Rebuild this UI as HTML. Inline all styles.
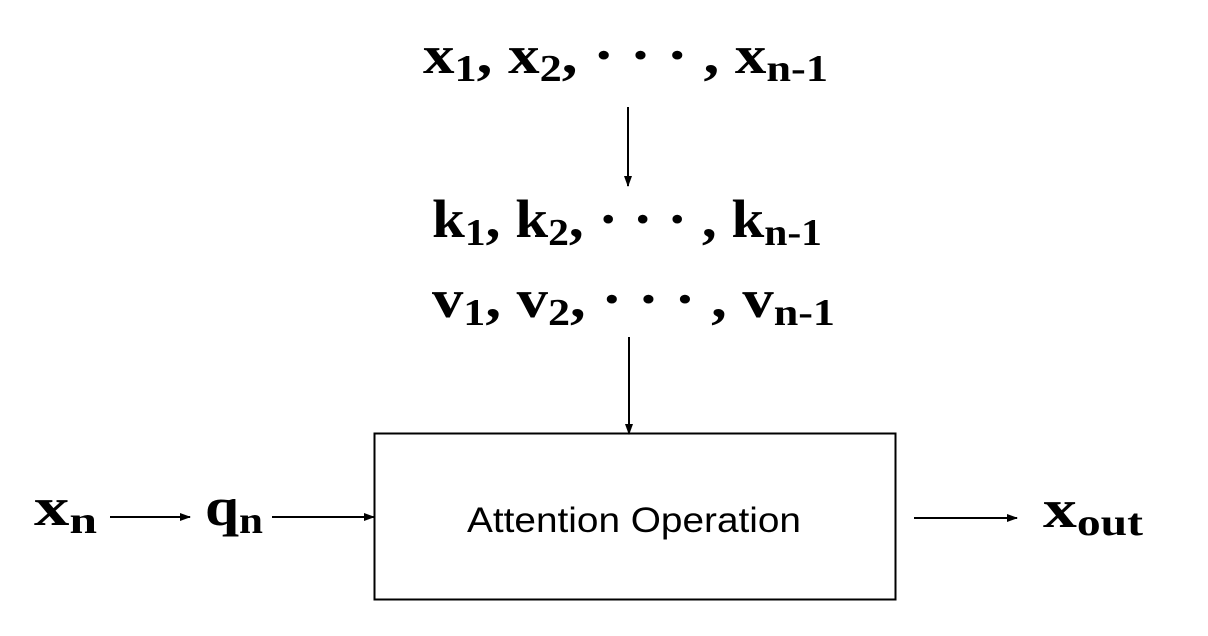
<!DOCTYPE html>
<html><head><meta charset="utf-8"><style>
html,body{margin:0;padding:0;background:#fff;width:1208px;height:636px;overflow:hidden}
svg{display:block}
text.m{font-family:"Liberation Serif",serif;font-weight:bold;font-size:54px;fill:#000}
tspan.s{font-family:"Liberation Serif",serif;font-weight:bold;font-size:38px}
</style></head><body>
<svg width="1208" height="636" viewBox="0 0 1208 636" xmlns="http://www.w3.org/2000/svg">
<defs><marker id="a" markerWidth="11" markerHeight="8" refX="10" refY="4" orient="auto" markerUnits="userSpaceOnUse"><path d="M0,0 L11,4 L0,8 z" fill="#000"/></marker></defs>
<text class="m" x="423" y="73" textLength="405" lengthAdjust="spacingAndGlyphs">x<tspan class="s" dy="8">1</tspan><tspan dy="-8">, x</tspan><tspan class="s" dy="8">2</tspan><tspan dy="-8">, · · · , x</tspan><tspan class="s" dy="8">n-1</tspan></text>
<text class="m" x="432" y="237" textLength="390" lengthAdjust="spacingAndGlyphs">k<tspan class="s" dy="8">1</tspan><tspan dy="-8">, k</tspan><tspan class="s" dy="8">2</tspan><tspan dy="-8">, · · · , k</tspan><tspan class="s" dy="8">n-1</tspan></text>
<text class="m" x="432" y="317" textLength="403" lengthAdjust="spacingAndGlyphs">v<tspan class="s" dy="8">1</tspan><tspan dy="-8">, v</tspan><tspan class="s" dy="8">2</tspan><tspan dy="-8">, · · · , v</tspan><tspan class="s" dy="8">n-1</tspan></text>
<line x1="628" y1="107" x2="628" y2="186" stroke="#000" stroke-width="2" marker-end="url(#a)"/>
<line x1="629" y1="337" x2="629" y2="434" stroke="#000" stroke-width="2" marker-end="url(#a)"/>
<rect x="374.5" y="433.5" width="521" height="166" fill="none" stroke="#000" stroke-width="2"/>
<text x="467" y="532" font-family="'Liberation Sans',sans-serif" font-size="35" textLength="334" lengthAdjust="spacingAndGlyphs">Attention Operation</text>
<text class="m" x="34" y="525" textLength="63" lengthAdjust="spacingAndGlyphs">x<tspan class="s" dy="8">n</tspan></text>
<line x1="110" y1="517" x2="190" y2="517" stroke="#000" stroke-width="2" marker-end="url(#a)"/>
<text class="m" x="205" y="525" textLength="58" lengthAdjust="spacingAndGlyphs">q<tspan class="s" dy="8">n</tspan></text>
<line x1="272" y1="517" x2="374" y2="517" stroke="#000" stroke-width="2" marker-end="url(#a)"/>
<line x1="914" y1="518" x2="1017" y2="518" stroke="#000" stroke-width="2" marker-end="url(#a)"/>
<text class="m" x="1043" y="527" textLength="100" lengthAdjust="spacingAndGlyphs">x<tspan class="s" dy="8">out</tspan></text>
</svg>
</body></html>
